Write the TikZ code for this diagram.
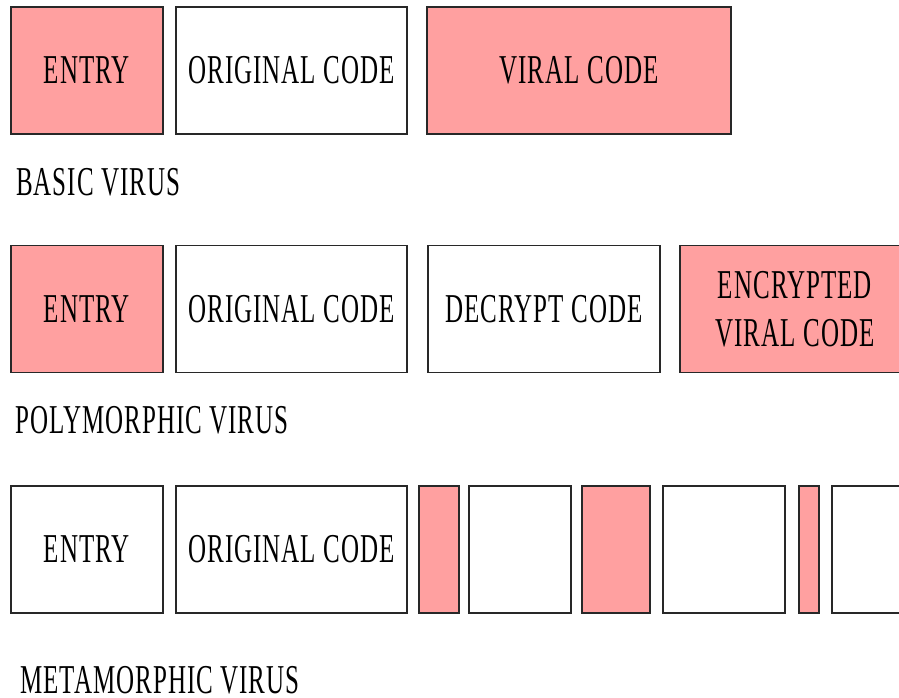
\documentclass[tikz,border=0pt]{standalone}
\usepackage{fontspec}
\newfontfamily\condfont[FakeStretch=0.61,LetterSpace=2.5]{Liberation Serif}
\definecolor{virpink}{RGB}{255,160,160}
\definecolor{edgecol}{RGB}{40,40,40}
\begin{document}
\begin{tikzpicture}[x=1pt,y=-1pt,
  blk/.style={draw=edgecol,line width=1.5pt,inner sep=0pt,minimum height=127pt,
    align=center,font=\condfont\fontsize{41}{48}\selectfont},
  pinkblk/.style={blk,fill=virpink},
  whiteblk/.style={blk,fill=white},
  lbl/.style={anchor=base west,inner sep=0pt,font=\condfont\fontsize{41}{48}\selectfont}]
\useasboundingbox (0,0) rectangle (899,698);
% basic virus
\node[pinkblk,minimum width=152pt] (e1) at (87,70.5) {ENTRY};
\node[whiteblk,minimum width=231pt] (o1) at (291.5,70.5) {ORIGINAL CODE};
\node[pinkblk,minimum width=304pt] (v1) at (579,70.5) {VIRAL CODE};
\node[lbl] (l1) at (16,195) {BASIC VIRUS};
% polymorphic virus
\node[pinkblk,minimum width=152pt] (e2) at (87,309) {ENTRY};
\node[whiteblk,minimum width=231pt] (o2) at (291.5,309) {ORIGINAL CODE};
\node[whiteblk,minimum width=232pt] (d2) at (544,309) {DECRYPT CODE};
\node[pinkblk,minimum width=230pt] (x2) at (795,309) {ENCRYPTED\\VIRAL CODE};
\node[lbl] (l2) at (15,433) {POLYMORPHIC VIRUS};
% metamorphic virus
\node[whiteblk,minimum width=152pt] (e3) at (87,549.5) {ENTRY};
\node[whiteblk,minimum width=231pt] (o3) at (291.5,549.5) {ORIGINAL CODE};
\node[pinkblk,minimum width=40pt] (m1) at (439,549.5) {};
\node[whiteblk,minimum width=102pt] (m2) at (520,549.5) {};
\node[pinkblk,minimum width=68pt] (m3) at (616,549.5) {};
\node[whiteblk,minimum width=122pt] (m4) at (724,549.5) {};
\node[pinkblk,minimum width=20pt] (m5) at (809,549.5) {};
\node[whiteblk,minimum width=100pt] (m6) at (882,549.5) {};
\node[lbl] (l3) at (20,693) {METAMORPHIC VIRUS};
\end{tikzpicture}
\end{document}
